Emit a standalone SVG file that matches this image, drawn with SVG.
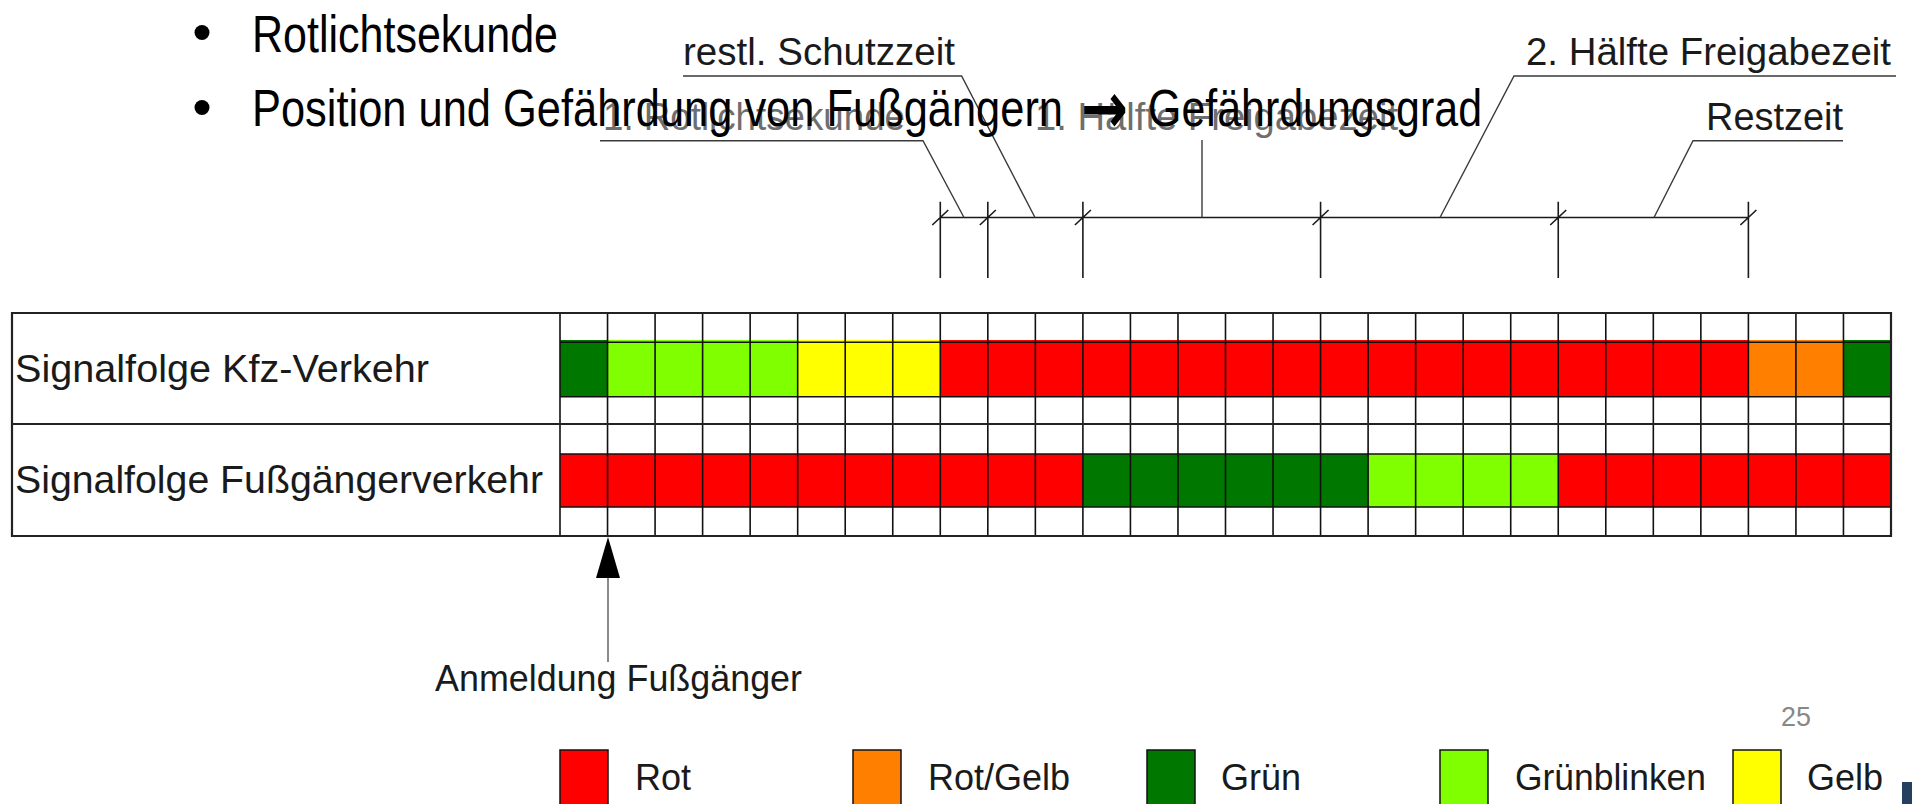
<svg xmlns="http://www.w3.org/2000/svg" width="1912" height="804" viewBox="0 0 1912 804">
<style>
.t{font-family:"Liberation Sans",Arial,sans-serif;fill:#1a1a1a}
.lab{font-size:38px}
.gr{fill:#6e6e6e}
.bul{font-family:"Liberation Sans Narrow","Liberation Sans",Arial,sans-serif;font-size:52px;fill:#000}
.leg{font-size:36px}
.grid{stroke:#111;stroke-width:1.6;fill:none}
.outer{stroke:#222;stroke-width:2.2;fill:none}
.lead{stroke:#3a3a3a;stroke-width:1.4;fill:none}
.dim{stroke:#1a1a1a;stroke-width:1.6;fill:none}
.r{fill:#ff0000}.o{fill:#ff8000}.g{fill:#007800}.lg{fill:#80ff00}.y{fill:#ffff00}
.box{stroke:#111;stroke-width:1.5}
</style>
<rect width="1912" height="804" fill="#fff"/>

<g id="signal-table">
  <g id="row-kfz">
    <rect class="g" x="560" y="340" width="47.54" height="56.7"/>
    <rect class="lg" x="607.54" y="340" width="190.14" height="56.7"/>
    <rect class="y" x="797.68" y="340" width="142.61" height="56.7"/>
    <rect class="r" x="940.29" y="340" width="808.1" height="56.7"/>
    <rect class="o" x="1748.39" y="340" width="95.07" height="56.7"/>
    <rect class="g" x="1843.46" y="340" width="47.54" height="56.7"/>
    <text class="t" x="15" y="382" font-size="39" textLength="414" lengthAdjust="spacingAndGlyphs">Signalfolge Kfz-Verkehr</text>
  </g>
  <g id="row-fussgaenger">
    <rect class="r" x="560" y="454" width="522.89" height="53"/>
    <rect class="g" x="1082.89" y="454" width="285.22" height="53"/>
    <rect class="lg" x="1368.11" y="454" width="190.14" height="53"/>
    <rect class="r" x="1558.25" y="454" width="332.75" height="53"/>
    <text class="t" x="15" y="493" font-size="39" textLength="528" lengthAdjust="spacingAndGlyphs">Signalfolge Fußgängerverkehr</text>
  </g>
  <path class="grid" d="M560 342.3H1891M560 396.7H1891M560 454H1891M560 507H1891
  M560 313V536M607.54 313V536M655.07 313V536M702.61 313V536M750.14 313V536M797.68 313V536M845.21 313V536M892.75 313V536M940.29 313V536M987.82 313V536M1035.36 313V536M1082.89 313V536M1130.43 313V536M1177.97 313V536M1225.5 313V536M1273.04 313V536M1320.57 313V536M1368.11 313V536M1415.64 313V536M1463.18 313V536M1510.72 313V536M1558.25 313V536M1605.79 313V536M1653.32 313V536M1700.86 313V536M1748.39 313V536M1795.93 313V536M1843.46 313V536"/>
  <path class="outer" d="M12 313H1891V536H12ZM12 424H1891"/>
</g>

<g id="connectors">
  <path class="dim" d="M940.29 217.5H1748.39
  M940.29 201.7V278M987.82 201.7V278M1082.89 201.7V278M1320.57 201.7V278M1558.25 201.7V278M1748.39 201.7V278
  M932.29 225L948.29 210M979.82 225L995.82 210M1074.89 225L1090.89 210M1312.57 225L1328.57 210M1550.25 225L1566.25 210M1740.39 225L1756.39 210"/>
  <polyline class="lead" points="600,140.7 923,140.7 964,217.5"/>
  <polyline class="lead" points="683,76 961.6,76 1035,217.5"/>
  <polyline class="lead" points="1202,140 1202,217.5"/>
  <polyline class="lead" points="1896,76 1514,76 1440,217.5"/>
  <polyline class="lead" points="1843,140.7 1693,140.7 1654,217.5"/>
  <line x1="608" y1="576" x2="608" y2="662" stroke="#8a8a8a" stroke-width="2"/>
  <polygon points="608,537 596,578 620,578" fill="#000"/>
</g>

<g id="annotations">
  <text id="lbl-rotlicht" class="t lab gr" x="603" y="130" textLength="302" lengthAdjust="spacingAndGlyphs">1. Rotlichtsekunde</text>
  <text id="lbl-schutzzeit" class="t lab" x="683" y="65" textLength="272" lengthAdjust="spacingAndGlyphs">restl. Schutzzeit</text>
  <text id="lbl-haelfte1" class="t lab gr" x="1035" y="130" textLength="363" lengthAdjust="spacingAndGlyphs">1. Hälfte Freigabezeit</text>
  <text id="lbl-haelfte2" class="t lab" x="1526" y="65" textLength="365" lengthAdjust="spacingAndGlyphs">2. Hälfte Freigabezeit</text>
  <text id="lbl-restzeit" class="t lab" x="1706" y="130" textLength="137" lengthAdjust="spacingAndGlyphs">Restzeit</text>
  <text id="lbl-anmeldung" class="t leg" x="435" y="691" textLength="367" lengthAdjust="spacingAndGlyphs">Anmeldung Fußgänger</text>
</g>

<g id="legend">
  <g id="leg-rot"><rect class="r box" x="560" y="750" width="48" height="60"/><text class="t leg" x="635" y="790">Rot</text></g>
  <g id="leg-rotgelb"><rect class="o box" x="853" y="750" width="48" height="60"/><text class="t leg" x="928" y="790">Rot/Gelb</text></g>
  <g id="leg-gruen"><rect class="g box" x="1147" y="750" width="48" height="60"/><text class="t leg" x="1221" y="790">Grün</text></g>
  <g id="leg-gruenblinken"><rect class="lg box" x="1440" y="750" width="48" height="60"/><text class="t leg" x="1515" y="790" textLength="191" lengthAdjust="spacingAndGlyphs">Grünblinken</text></g>
  <g id="leg-gelb"><rect class="y box" x="1733" y="750" width="48" height="60"/><text class="t leg" x="1807" y="790">Gelb</text></g>
</g>

<g id="slide">
  <circle cx="202" cy="32.5" r="7.5" fill="#000"/>
  <text class="bul" x="252" y="51.5" textLength="306" lengthAdjust="spacingAndGlyphs">Rotlichtsekunde</text>
  <circle cx="202" cy="107.5" r="7.5" fill="#000"/>
  <text class="bul" y="126"><tspan x="252" y="126" textLength="811" lengthAdjust="spacingAndGlyphs">Position und Gefährdung von Fußgängern</tspan><tspan x="1081" y="133" font-family="'DejaVu Sans',sans-serif" font-weight="bold" font-size="72" textLength="47" lengthAdjust="spacingAndGlyphs">→</tspan><tspan x="1148" y="126" textLength="334" lengthAdjust="spacingAndGlyphs">Gefährdungsgrad</tspan></text>
  <text x="1781" y="726" font-family="'Liberation Sans Narrow','Liberation Sans',sans-serif" font-size="28" fill="#888" textLength="30" lengthAdjust="spacingAndGlyphs">25</text>
  <rect x="1902" y="782" width="10" height="22" fill="#243f60"/>
</g>
</svg>
